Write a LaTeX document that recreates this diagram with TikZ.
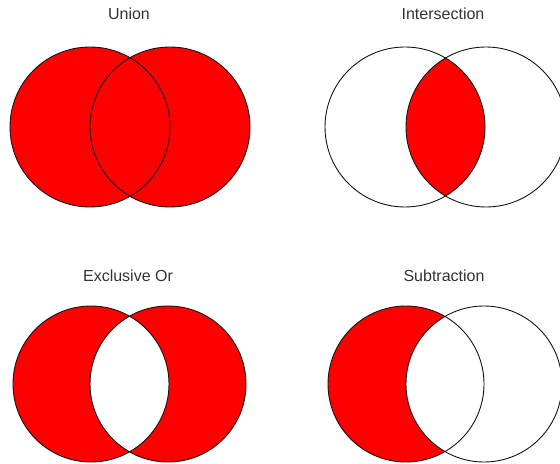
\documentclass[tikz,border=0pt]{standalone}
\usepackage{fontspec}
\setmainfont{Liberation Sans}
\definecolor{vred}{RGB}{255,0,0}
\definecolor{vline}{RGB}{20,20,20}
\tikzset{
  outline/.style={draw=vline, line width=0.9bp},
  redfill/.style={fill=vred},
  title/.style={font=\fontsize{16bp}{18bp}\selectfont, text=black!80, inner sep=0pt, anchor=center}
}
\begin{document}
\begin{tikzpicture}[x=1bp,y=-1bp]
\useasboundingbox (0,0) rectangle (560,464);
\clip (0,0) rectangle (560,464);
% titles
\node[title] (tunion) at (129,14) {Union};
\node[title] (tinter) at (443,14) {Intersection};
\node[title] (txor) at (128,276) {Exclusive Or};
\node[title] (tsub) at (444,276) {Subtraction};
% Union
\fill[redfill] (90,127) circle (80);
\fill[redfill] (170,127) circle (80);
\draw[outline] (90,127) circle (80);
\draw[outline] (170,127) circle (80);
% Intersection
\begin{scope}
  \clip (405,127) circle (80);
  \fill[redfill] (486,127) circle (80);
\end{scope}
\draw[outline] (405,127) circle (80);
\draw[outline] (486,127) circle (80);
% Exclusive Or
\fill[redfill, even odd rule] (91,384) circle (78) (168,384) circle (78);
\draw[outline] (91,384) circle (78);
\draw[outline] (168,384) circle (78);
% Subtraction
\begin{scope}[even odd rule]
  \clip (406,384) circle (78);
  \fill[redfill] (406,384) circle (78);
  \fill[white] (484,384) circle (78);
\end{scope}
\draw[outline] (406,384) circle (78);
\draw[outline] (484,384) circle (78);
\end{tikzpicture}
\end{document}
